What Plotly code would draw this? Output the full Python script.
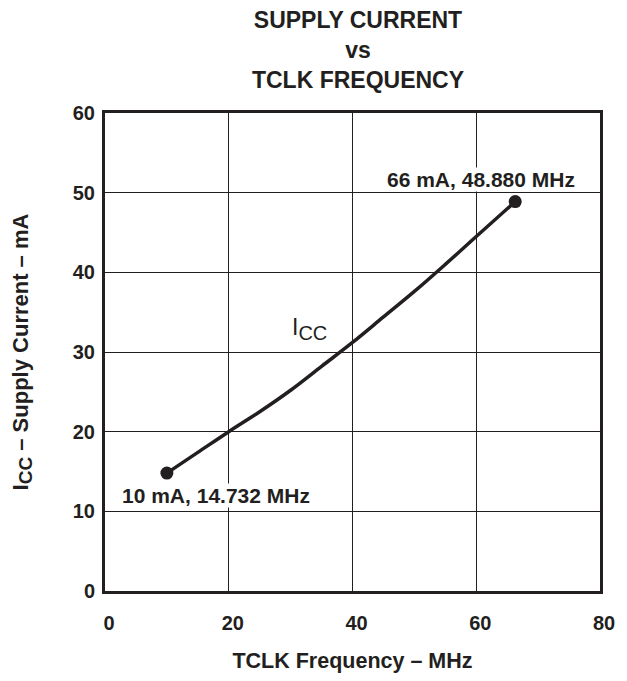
import plotly.graph_objects as go

# Data
freq_mhz = [10, 15, 20, 25, 30, 35, 40, 45, 50, 55, 60, 66.3]
icc_ma = [14.8, 17.4, 20.0, 22.5, 25.2, 28.2, 31.2, 34.4, 37.6, 41.0, 44.5, 48.88]
end_freq = [10, 66.3]
end_icc = [14.8, 48.88]
x_ticks = [0, 20, 40, 60, 80]
y_ticks = [0, 10, 20, 30, 40, 50, 60]

INK = "#231f20"
FONT = "Liberation Sans, Arial, Helvetica, sans-serif"

fig = go.Figure()
fig.add_trace(go.Scatter(x=freq_mhz, y=icc_ma, mode="lines",
                         line=dict(color=INK, width=3.5, shape="spline"),
                         hoverinfo="skip", showlegend=False))
fig.add_trace(go.Scatter(x=end_freq, y=end_icc, mode="markers",
                         marker=dict(color=INK, size=13),
                         showlegend=False))

fig.add_annotation(x=17.9, y=12.0, text="<b>10 mA, 14.732 MHz</b>", showarrow=False,
                   font=dict(size=21, color=INK, family=FONT), bgcolor="white", borderpad=0)
fig.add_annotation(x=60.7, y=51.7, text="<b>66 mA, 48.880 MHz</b>", showarrow=False,
                   font=dict(size=21, color=INK, family=FONT), bgcolor="white", borderpad=0)
fig.add_annotation(x=33.0, y=32.9,
                   text="I<sub><span style='font-size:20px'>CC</span></sub>", showarrow=False,
                   font=dict(size=23, color=INK, family=FONT))

axis_common = dict(showgrid=True, gridcolor=INK, gridwidth=1.2,
                   zeroline=False, showline=True, linecolor=INK, linewidth=3,
                   mirror=True, ticks="", tickfont=dict(size=20, color=INK, family=FONT))

fig.update_xaxes(range=[0, 80], tickvals=x_ticks, ticktext=[f"<b>{v}</b>" for v in x_ticks],
                 ticklabelstandoff=12, ticklabelshift=4,
                 title=dict(text="<b>TCLK Frequency – MHz</b>",
                            font=dict(size=21.5, color=INK, family=FONT), standoff=20),
                 **axis_common)
fig.update_yaxes(range=[0, 60], tickvals=y_ticks, ticktext=[f"<b>{v}</b>" for v in y_ticks],
                 ticklabelstandoff=3,
                 title=dict(text="<b>I<sub><span style='font-size:19px'>CC</span></sub> – Supply Current – mA</b>",
                            font=dict(size=22, color=INK, family=FONT), standoff=39),
                 **axis_common)

fig.update_layout(
    width=627, height=681,
    margin=dict(l=105, r=16, t=113, b=62),
    paper_bgcolor="white", plot_bgcolor="white",
    font=dict(family=FONT, color=INK),
    title=dict(text="<b>SUPPLY CURRENT<br>vs<br>TCLK FREQUENCY</b>",
               x=358 / 627, xanchor="center",
               y=1 - 28 / 681, yanchor="middle",
               font=dict(size=23, color=INK, family=FONT)),
)

fig.write_html("out.html", config={"displayModeBar": False},
               post_script="document.body.style.margin='0';")
